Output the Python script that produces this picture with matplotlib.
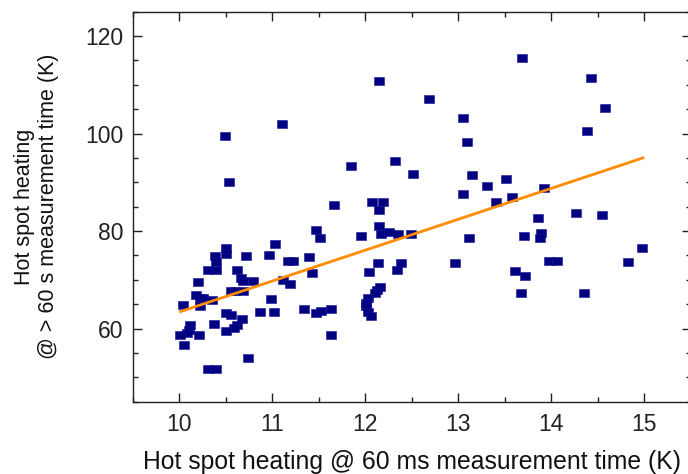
import matplotlib
matplotlib.use("Agg")
import matplotlib.pyplot as plt
from matplotlib.ticker import MultipleLocator

plt.rcParams['font.family'] = ['Liberation Sans', 'DejaVu Sans']

# Hot spot heating @ 60 ms (K)
x_vals = [
    10.49, 10.54, 11.10, 12.15, 12.69, 13.05, 13.09, 11.85, 12.32, 12.51,
    13.15, 13.31, 13.05, 13.41, 11.66, 12.07, 12.19, 12.15, 13.68, 14.43,
    14.58, 14.38, 13.51, 13.92, 13.58, 13.86, 14.27, 14.55, 13.71, 13.89,
    13.88, 14.98, 13.98, 14.06, 14.82, 13.61, 13.72, 13.67, 14.35, 13.12,
    11.47, 11.51, 11.95, 12.15, 12.17, 12.26, 12.35, 12.49, 12.96, 11.39,
    11.43, 12.14, 12.04, 12.38, 12.34, 12.16, 12.13, 12.10, 12.03, 12.01,
    12.01, 12.03, 12.06, 11.34, 11.47, 11.52, 11.63, 11.63, 11.03, 10.97,
    11.17, 11.22, 11.12, 11.19, 10.99, 11.02, 10.72, 10.50, 10.50, 10.38,
    10.40, 10.31, 10.40, 10.20, 10.62, 10.66, 10.69, 10.79, 10.56, 10.60,
    10.69, 10.18, 10.22, 10.26, 10.35, 10.04, 10.22, 10.87, 10.50, 10.56,
    10.67, 10.62, 10.59, 10.50, 10.37, 10.12, 10.10, 10.08, 10.01, 10.21,
    10.05, 10.74, 10.31, 10.40,
]
# Hot spot heating @ > 60 s (K)
y_vals = [
    99.5, 90.1, 102.0, 110.8, 107.1, 103.1, 98.2, 93.3, 94.3, 91.8,
    91.6, 89.3, 87.6, 85.9, 85.4, 85.9, 85.9, 84.4, 115.4, 111.3,
    105.2, 100.6, 90.6, 88.8, 87.0, 82.7, 83.8, 83.3, 79.0, 79.7,
    78.6, 76.6, 73.9, 73.9, 73.7, 71.9, 70.7, 67.3, 67.3, 78.6,
    80.2, 78.6, 78.9, 81.0, 79.5, 79.9, 79.3, 79.3, 73.5, 74.6,
    71.5, 73.4, 71.6, 73.5, 72.0, 68.6, 68.0, 67.3, 66.3, 65.2,
    64.6, 63.5, 62.5, 64.0, 63.2, 63.7, 64.1, 58.6, 77.3, 75.1,
    73.9, 73.9, 69.9, 69.1, 66.1, 63.3, 74.8, 76.5, 75.2, 74.8,
    73.6, 72.0, 72.0, 69.5, 72.0, 70.3, 69.7, 69.7, 67.8, 67.8,
    67.8, 66.9, 66.3, 66.3, 65.9, 64.8, 64.7, 63.5, 63.2, 62.7,
    62.0, 60.8, 60.1, 59.6, 61.0, 60.8, 59.8, 59.1, 58.6, 58.6,
    56.6, 54.0, 51.8, 51.8,
]
# Linear fit line
fit_x = [10.0, 15.0]
fit_y = [63.4, 95.1]

x_ticks = [10, 11, 12, 13, 14, 15]
y_ticks = [60, 80, 100, 120]

fig = plt.figure(figsize=(6.88, 4.74), dpi=100)
W, H = 688, 474
left, right, top, bottom = 132.7, 690.8, 11.7, 401.7
ax = fig.add_axes([left / W, 1 - bottom / H, (right - left) / W, (bottom - top) / H])

rect = [(-1.1, -1.0), (1.1, -1.0), (1.1, 1.0), (-1.1, 1.0), (-1.1, -1.0)]
ax.scatter(x_vals, y_vals, marker=rect, s=46, color='#000080', edgecolors='#14149a',
           linewidths=0.4, zorder=3)
ax.plot(fit_x, fit_y, color='#FF8C00', lw=2.0, zorder=4, solid_capstyle='butt')

ax.set_xlim(9.5, 15.5)
ax.set_ylim(45, 125)
ax.set_xticks(x_ticks)
ax.set_yticks(y_ticks)
ax.xaxis.set_minor_locator(MultipleLocator(0.5))
ax.yaxis.set_minor_locator(MultipleLocator(5))

ax.tick_params(which='both', direction='in', top=True, right=True, width=1.0,
               labelsize=16.5, colors='#222222')
ax.tick_params(which='major', length=6.2)
ax.tick_params(axis='x', which='major', pad=8)
ax.tick_params(axis='y', which='major', pad=6.5)
ax.tick_params(which='minor', length=3.3)
for sp in ax.spines.values():
    sp.set_linewidth(1.0)
    sp.set_color('#222222')

ax.set_xlabel('Hot spot heating @ 60 ms measurement time (K)', fontsize=17.8,
              color='#111111', labelpad=10)
ax.set_ylabel('Hot spot heating\n@ > 60 s measurement time (K)', fontsize=15.5,
              color='#111111', labelpad=19, linespacing=1.2)

fig.savefig('out.png', dpi=100)
